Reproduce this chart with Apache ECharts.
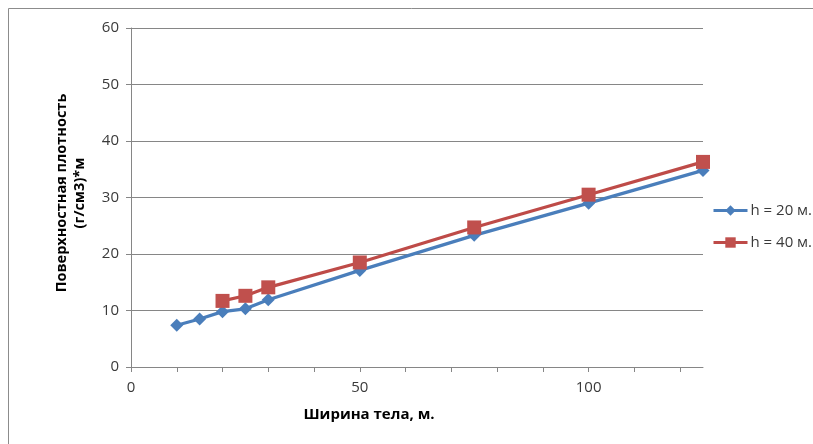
<!DOCTYPE html>
<html>
<head>
<meta charset="utf-8">
<script src="https://cdn.jsdelivr.net/npm/echarts@6/dist/echarts.min.js"></script>
<style>
  html, body { margin: 0; padding: 0; background: #fff; }
  #chart { width: 813px; height: 444px; }
</style>
</head>
<body>
<div id="chart"></div>
<script>
// Body width (m) vs. surface density, for two depths h
const widths20 = [10, 15, 20, 25, 30, 50, 75, 100, 125];
const density20 = [7.4, 8.5, 9.8, 10.3, 11.9, 17.1, 23.3, 29.0, 34.8];
const widths40 = [20, 25, 30, 50, 75, 100, 125];
const density40 = [11.7, 12.6, 14.1, 18.5, 24.7, 30.5, 36.3];
const seriesNames = ['h = 20 м.', 'h = 40 м.'];
const xTickValues = [0, 10, 20, 30, 40, 50, 60, 70, 80, 90, 100, 110, 120];
const xLabelValues = [0, 50, 100];
const yTitle = ['Поверхностная плотность', '(г/см3)*м'];
const xTitle = 'Ширина тела, м.';

const font = '"Open Sans", "DejaVu Sans", sans-serif';
const axisGrey = '#868686';
const textColor = '#3a3a3a';
const blue = '#4A7EBB';
const red = '#BE4B48';

const pairs = (xs, ys) => xs.map((x, i) => [x, ys[i]]);

const chart = echarts.init(document.getElementById('chart'), null, { renderer: 'canvas' });
chart.setOption({
  animation: false,
  backgroundColor: '#ffffff',
  grid: { left: 131, right: 110, top: 28, bottom: 77 },
  xAxis: {
    type: 'value', min: 0, max: 125,
    axisLine: { show: true, lineStyle: { color: axisGrey, width: 1 } },
    axisTick: { show: true, inside: false, length: 5, lineStyle: { color: axisGrey }, customValues: xTickValues },
    axisLabel: { customValues: xLabelValues, margin: 13, color: textColor, fontSize: 15, fontFamily: font },
    splitLine: { show: false }
  },
  yAxis: {
    type: 'value', min: 0, max: 60, interval: 10,
    axisLine: { show: true, lineStyle: { color: axisGrey, width: 1 } },
    axisTick: { show: true, inside: false, length: 5, lineStyle: { color: axisGrey } },
    axisLabel: { margin: 12, color: textColor, fontSize: 15, fontFamily: font },
    splitLine: { show: true, lineStyle: { color: axisGrey, width: 1 } }
  },
  legend: {
    orient: 'vertical', left: 712, top: 203, padding: 0,
    itemWidth: 34, itemHeight: 13, itemGap: 17,
    lineStyle: { width: 3 },
    textStyle: { color: textColor, fontSize: 15, fontFamily: font, padding: [0, 0, 0, -2] },
    data: seriesNames
  },
  series: [
    {
      name: seriesNames[0], type: 'line', data: pairs(widths20, density20),
      symbol: 'diamond', symbolSize: 13,
      lineStyle: { color: blue, width: 3.2 },
      itemStyle: { color: blue },
      z: 2
    },
    {
      name: seriesNames[1], type: 'line', data: pairs(widths40, density40),
      symbol: 'rect', symbolSize: 14,
      lineStyle: { color: red, width: 3.2 },
      itemStyle: { color: '#C0504D' },
      z: 3
    }
  ],
  graphic: [
    {
      type: 'rect', silent: true,
      shape: { x: 8.5, y: 8.5, width: 830, height: 460 },
      style: { fill: 'none', stroke: '#8c8c8c', lineWidth: 1 }
    },
    {
      type: 'text', x: 71, y: 193, rotation: Math.PI / 2,
      style: {
        text: yTitle.join('\n'), fill: '#000', font: 'bold 14.5px ' + font,
        align: 'center', verticalAlign: 'middle', lineHeight: 18
      }
    },
    {
      type: 'text', x: 369, y: 415,
      style: {
        text: xTitle, fill: '#000', font: 'bold 15px ' + font,
        align: 'center', verticalAlign: 'middle'
      }
    }
  ]
});
</script>
</body>
</html>
